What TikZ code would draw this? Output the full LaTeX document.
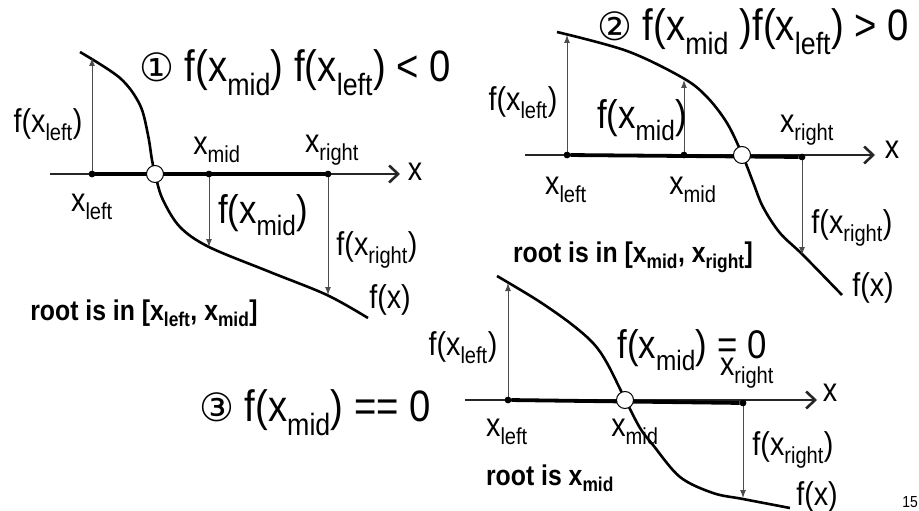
\documentclass[tikz,border=0pt]{standalone}
\usepackage{fontspec}
\setmainfont{Liberation Sans}[FakeStretch=0.87]
\newfontfamily\circfont{DejaVu Sans}
\usetikzlibrary{arrows.meta}
\newcommand{\lo}[1]{\textsubscript{#1}}
\tikzset{
	dot/.style={circle,fill=black,inner sep=0pt,minimum size=6.5pt},
	hole/.style={circle,draw=black,fill=white,line width=1pt,inner sep=0pt,minimum size=17pt},
	axis/.style={draw=black!85,line width=2.2pt,-{Straight Barb[length=9pt,width=17pt,line width=2.6pt]}},
	span/.style={draw=black,line width=3.8pt},
	curve/.style={draw=black,line width=2.6pt},
	val/.style={draw=black!70,line width=1pt,-{Latex[length=8pt,width=6pt]}},
	lbl/.style={font=\fontsize{33}{36}\selectfont,inner sep=0pt},
	big/.style={font=\fontsize{40}{44}\selectfont,inner sep=0pt},
	ttl/.style={font=\fontsize{44}{48}\selectfont,inner sep=0pt},
	note/.style={font=\fontsize{28.5}{31}\selectfont\bfseries,inner sep=0pt},
}
\begin{document}
\begin{tikzpicture}[x=1pt,y=-1pt]
	\useasboundingbox (0,0) rectangle (919,511);
	% case 1
	\coordinate (a0) at (50,174);
	\coordinate (a1) at (400,174);
	\node[dot] (l1) at (92,174) {};
	\node[dot] (m1) at (209,174) {};
	\node[dot] (r1) at (328,174) {};
	\coordinate (fl1) at (92,58);
	\coordinate (fm1) at (209,247);
	\coordinate (fr1) at (328,295);
	\draw[axis] (a0) -- (a1);
	\draw[span] (l1) -- (r1);
	\draw[curve] plot[smooth,tension=0.55] coordinates {(80,52) (120,78) (140,105) (148,135) (152,160) (156,178) (163,200) (180,227) (209,247) (270,272) (327,295) (368,318)};
	\foreach \p/\q in {l1/fl1,m1/fm1,r1/fr1}
	\draw[val] (\p) -- (\q);
	\node[dot] at (l1) {};
	\node[dot] at (m1) {};
	\node[dot] at (r1) {};
	\node[hole] (z1) at (155,174) {};
	\node[ttl] (t1) at (295,73) {{\circfont\fontsize{39}{42}\selectfont ①} f(x\lo{mid}) f(x\lo{left}) < 0};
	\node[lbl] (nfl1) at (48,125) {f(x\lo{left})};
	\node[lbl] (nm1) at (217,150) {x\lo{mid}};
	\node[lbl] (nr1) at (332,150) {x\lo{right}};
	\node[lbl] (nx1) at (415,172) {x};
	\node[lbl] (nl1) at (92,207) {x\lo{left}};
	\node[big] (nfm1) at (263,215) {f(x\lo{mid})};
	\node[lbl] (nfr1) at (377,250) {f(x\lo{right})};
	\node[lbl] (nf1) at (390,300) {f(x)};
	\node[note] (w1) at (144,313) {root is in [x\lo{left}, x\lo{mid}]};
	% case 2
	\coordinate (b0) at (525,155);
	\coordinate (b1) at (875,155);
	\node[dot] (l2) at (567,155) {};
	\node[dot] (m2) at (684,155) {};
	\node[dot] (r2) at (802,157) {};
	\coordinate (fl2) at (567,35);
	\coordinate (fm2) at (684,80);
	\coordinate (fr2) at (802,255);
	\draw[axis] (b0) -- (b1);
	\draw[span] (l2) -- (r2);
	\draw[curve] plot[smooth,tension=0.55] coordinates {(557,32) (627,51) (683,78) (707,97) (727,123) (742,154) (753,182) (763,207) (780,233) (803,255) (842,295)};
	\foreach \p/\q in {l2/fl2,m2/fm2,r2/fr2}
	\draw[val] (\p) -- (\q);
	\node[dot] at (l2) {};
	\node[dot] at (m2) {};
	\node[dot] at (r2) {};
	\node[hole] (z2) at (742,155) {};
	\node[ttl] (t2) at (753,32) {{\circfont\fontsize{39}{42}\selectfont ②} f(x\lo{mid} )f(x\lo{left}) > 0};
	\node[lbl] (nfl2) at (523,103) {f(x\lo{left})};
	\node[big] (nfm2) at (642,120) {f(x\lo{mid})};
	\node[lbl] (nr2) at (807,130) {x\lo{right}};
	\node[lbl] (nx2) at (892,150) {x};
	\node[lbl] (nl2) at (566,190) {x\lo{left}};
	\node[lbl] (nm2) at (693,190) {x\lo{mid}};
	\node[lbl] (nfr2) at (852,228) {f(x\lo{right})};
	\node[note] (w2) at (633,257) {root is in [x\lo{mid}, x\lo{right}]};
	\node[lbl] (nf2) at (873,288) {f(x)};
	% case 3
	\coordinate (c0) at (465,400);
	\coordinate (c1) at (817,400);
	\node[dot] (l3) at (508,400) {};
	\node[dot] (r3) at (743,403) {};
	\coordinate (fl3) at (508,283);
	\coordinate (fr3) at (743,498);
	\draw[axis] (c0) -- (c1);
	\draw[span] (l3) -- (r3);
	\draw[curve] plot[smooth,tension=0.55] coordinates {(497,276) (537,300) (570,323) (593,343) (607,363) (625,399) (640,428) (653,445) (680,477) (713,493) (743,499) (790,508)};
	\foreach \p/\q in {l3/fl3,r3/fr3}
	\draw[val] (\p) -- (\q);
	\node[dot] at (l3) {};
	\node[dot] at (r3) {};
	\node[hole] (z3) at (625,400) {};
	\node[ttl] (t3) at (315,413) {{\circfont\fontsize{39}{42}\selectfont ③} f(x\lo{mid}) == 0};
	\node[lbl] (nfl3) at (463,348) {f(x\lo{left})};
	\node[big] (nfm3) at (692,350) {f(x\lo{mid}) = 0};
	\node[lbl] (nr3) at (747,373) {x\lo{right}};
	\node[lbl] (nx3) at (830,393) {x};
	\node[lbl] (nl3) at (507,432) {x\lo{left}};
	\node[lbl] (nm3) at (635,432) {x\lo{mid}};
	\node[lbl] (nfr3) at (793,450) {f(x\lo{right})};
	\node[note] (w3) at (550,478) {root is x\lo{mid}};
	\node[lbl] (nf3) at (817,497) {f(x)};
	\node[font=\fontsize{16}{18}\selectfont,inner sep=0pt] (pg) at (910,502) {15};
\end{tikzpicture}
\end{document}
